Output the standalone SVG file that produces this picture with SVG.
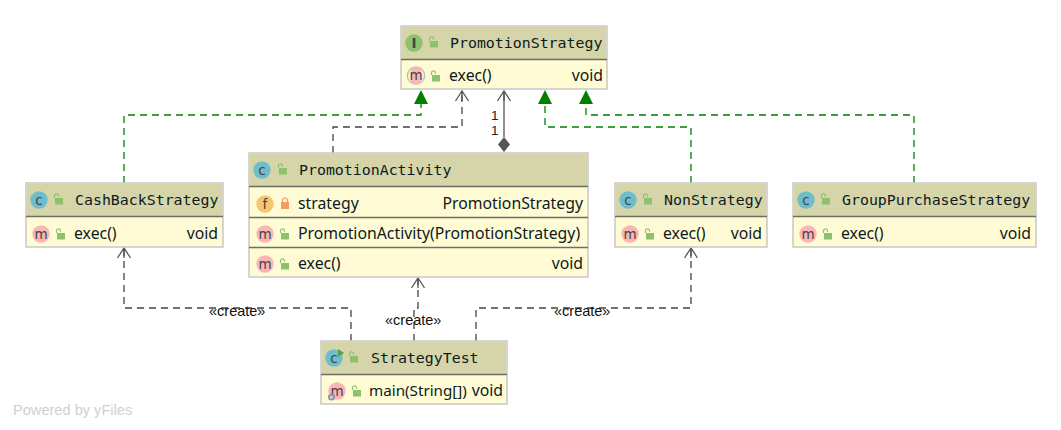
<svg xmlns="http://www.w3.org/2000/svg" width="1061" height="430" viewBox="0 0 1061 430">
<style>
.box{fill:#fffcd5;stroke:#c8c8c8;stroke-width:1.5}
.hd{fill:#d6d5a9}
.sep{stroke:#6e6e68;stroke-width:1.3}
.t{font-family:"DejaVu Sans Mono",monospace;font-size:14.9px;fill:#0c1a22}
.b{font-family:"Noto Sans","Open Sans",sans-serif;font-size:15.8px;fill:#0c1a22}
.e{text-anchor:end}
.l{font-family:"Liberation Sans",Arial,sans-serif;font-size:14.5px;fill:#111}
.n{font-family:"Liberation Sans",Arial,sans-serif;font-size:13.5px;fill:#222}
.ic{font-family:"DejaVu Sans",sans-serif;font-size:13.5px;text-anchor:middle;fill:#444}
.c{fill:#6fbccd}.m{fill:#fbb5b5}.i{fill:#8dc26f}.f{fill:#f7c56e}
.lk{fill:#8cc26e}
.gd{fill:none;stroke:#008000;stroke-width:1.3;stroke-dasharray:7 5}
.kd{fill:none;stroke:#444;stroke-width:1.3;stroke-dasharray:7 5}
.ka{fill:none;stroke:#555;stroke-width:1.3}
</style>
<defs>
<g id="open"><rect class="lk" x="-3" y="-2" width="8" height="6.5"/><path d="M-3.5-2v-2.2a2 2 0 0 1 4 0v1" fill="none" stroke="#8cc26e" stroke-width="1.2"/></g>
<g id="closed"><rect x="-4" y="-2" width="8" height="7" fill="#f79a62"/><path d="M-2.5-2v-1.5a2.5 2.5 0 0 1 5 0V-2" fill="none" stroke="#f79a62" stroke-width="1.2"/></g>
<path id="tri" d="M0 0L-7 14H7Z" fill="#008000"/>
<path id="oa" d="M-6.500 10L0 0L6.500 10M0 0V10" fill="none" stroke="#555" stroke-width="1.300"/>
</defs>
<g id="connectors">
<path class="gd" d="M124 183V115H421V104"/><use href="#tri" x="421" y="90"/>
<path class="kd" d="M333 153V127H462V91"/><use href="#oa" x="462" y="91"/>
<path class="ka" d="M504 91V137"/><use href="#oa" x="504" y="91"/>
<path d="M504 137L510 144.500L504 152L498 144.500Z" fill="#555"/>
<path class="gd" d="M691 183V127H545V104"/><use href="#tri" x="545" y="90"/>
<path class="gd" d="M914 183V115H586V104"/><use href="#tri" x="586" y="90"/>
<path class="kd" d="M351 341V308H124V248"/><use href="#oa" x="124" y="248"/>
<path class="kd" d="M414 341V308H418V278"/><use href="#oa" x="418" y="278"/>
<path class="kd" d="M476 341V308H691V248"/><use href="#oa" x="691" y="248"/>
<text class="n" x="491" y="119.500">1</text>
<text class="n" x="491" y="135">1</text>
<text class="l" x="209" y="316">«create»</text>
<text class="l" x="385" y="325">«create»</text>
<text class="l" x="554" y="316">«create»</text>
</g>
<g id="PromotionStrategy">
<rect class="box" x="401" y="26" width="206" height="63"/><rect class="hd" x="402" y="27" width="204" height="32"/>
<path class="sep" d="M401 59.500H607"/>
<circle class="i" cx="414" cy="43" r="8.700"/><text class="ic" x="414" y="47.500" font-weight="bold" font-family="DejaVu Sans Mono">I</text><use href="#open" x="433" y="43"/>
<text class="t" x="450" y="47.500">PromotionStrategy</text>
<circle cx="416" cy="75.500" r="8.700" fill="#f3f0d8" stroke="#b9b9b9" stroke-width="1.200"/><rect class="m" x="411" y="67" width="10" height="17" rx="3"/><text class="ic" x="416" y="80">m</text><use href="#open" x="435" y="77"/>
<text class="b" x="449" y="81">exec()</text><text class="b e" x="603" y="81">void</text>
</g>
<g id="PromotionActivity">
<rect class="box" x="249" y="153" width="339" height="124"/><rect class="hd" x="250" y="154" width="337" height="32"/>
<path class="sep" d="M249 186.500H588M249 217.500H588M249 247.500H588"/>
<circle class="c" cx="262" cy="170" r="8.700"/><text class="ic" x="262" y="174.500">c</text><use href="#open" x="282" y="170"/>
<text class="t" x="299" y="174.500">PromotionActivity</text>
<circle class="f" cx="265" cy="204" r="8.700"/><text class="ic" x="265" y="208.500">f</text><use href="#closed" x="285" y="204"/>
<text class="b" x="298" y="209">strategy</text><text class="b e" x="583" y="209">PromotionStrategy</text>
<circle class="m" cx="265" cy="234" r="8.700"/><text class="ic" x="265" y="238.500">m</text><use href="#open" x="284" y="235"/>
<text class="b" x="298" y="239">PromotionActivity(PromotionStrategy)</text>
<circle class="m" cx="265" cy="264" r="8.700"/><text class="ic" x="265" y="268.500">m</text><use href="#open" x="284" y="265"/>
<text class="b" x="298" y="269">exec()</text><text class="b e" x="583" y="269">void</text>
</g>
<g id="CashBackStrategy">
<rect class="box" x="26" y="183" width="197" height="64"/><rect class="hd" x="27" y="184" width="195" height="32"/>
<path class="sep" d="M26 216.500H223"/>
<circle class="c" cx="39" cy="200" r="8.700"/><text class="ic" x="39" y="204.500">c</text><use href="#open" x="58" y="200"/>
<text class="t" x="75" y="204.500">CashBackStrategy</text>
<circle class="m" cx="41" cy="234" r="8.700"/><text class="ic" x="41" y="238.500">m</text><use href="#open" x="60" y="235"/>
<text class="b" x="74" y="239">exec()</text><text class="b e" x="218" y="239">void</text>
</g>
<g id="NonStrategy">
<rect class="box" x="615" y="183" width="152" height="64"/><rect class="hd" x="616" y="184" width="150" height="32"/>
<path class="sep" d="M615 216.500H767"/>
<circle class="c" cx="628" cy="200" r="8.700"/><text class="ic" x="628" y="204.500">c</text><use href="#open" x="647" y="200"/>
<text class="t" x="664" y="204.500">NonStrategy</text>
<circle class="m" cx="630" cy="234" r="8.700"/><text class="ic" x="630" y="238.500">m</text><use href="#open" x="649" y="235"/>
<text class="b" x="663" y="239">exec()</text><text class="b e" x="762" y="239">void</text>
</g>
<g id="GroupPurchaseStrategy">
<rect class="box" x="793" y="183" width="243" height="64"/><rect class="hd" x="794" y="184" width="241" height="32"/>
<path class="sep" d="M793 216.500H1036"/>
<circle class="c" cx="806" cy="200" r="8.700"/><text class="ic" x="806" y="204.500">c</text><use href="#open" x="825" y="200"/>
<text class="t" x="842" y="204.500">GroupPurchaseStrategy</text>
<circle class="m" cx="808" cy="234" r="8.700"/><text class="ic" x="808" y="238.500">m</text><use href="#open" x="827" y="235"/>
<text class="b" x="841" y="239">exec()</text><text class="b e" x="1031" y="239">void</text>
</g>
<g id="StrategyTest">
<rect class="box" x="321" y="341" width="186" height="63"/><rect class="hd" x="322" y="342" width="184" height="32"/>
<path class="sep" d="M321 374.500H507"/>
<circle class="c" cx="334" cy="358" r="8.700"/><text class="ic" x="334" y="362.500">c</text><path d="M338 349l6 4-6 4Z" fill="#4fa04f"/><use href="#open" x="353" y="358"/>
<text class="t" x="371" y="362.500">StrategyTest</text>
<circle class="m" cx="337" cy="391" r="8.700"/><text class="ic" x="337" y="395.500">m</text><circle cx="331.500" cy="397" r="2.500" fill="none" stroke="#8a97a8" stroke-width="2"/><use href="#open" x="356" y="392"/>
<text class="b" x="369" y="396" style="font-size:15.200px">main(String[])</text><text class="b e" x="503" y="396">void</text>
</g>
<text x="13" y="415" font-family="'Liberation Sans',Arial,sans-serif" font-size="14.600" fill="#d0d0d0">Powered by yFiles</text>
</svg>
